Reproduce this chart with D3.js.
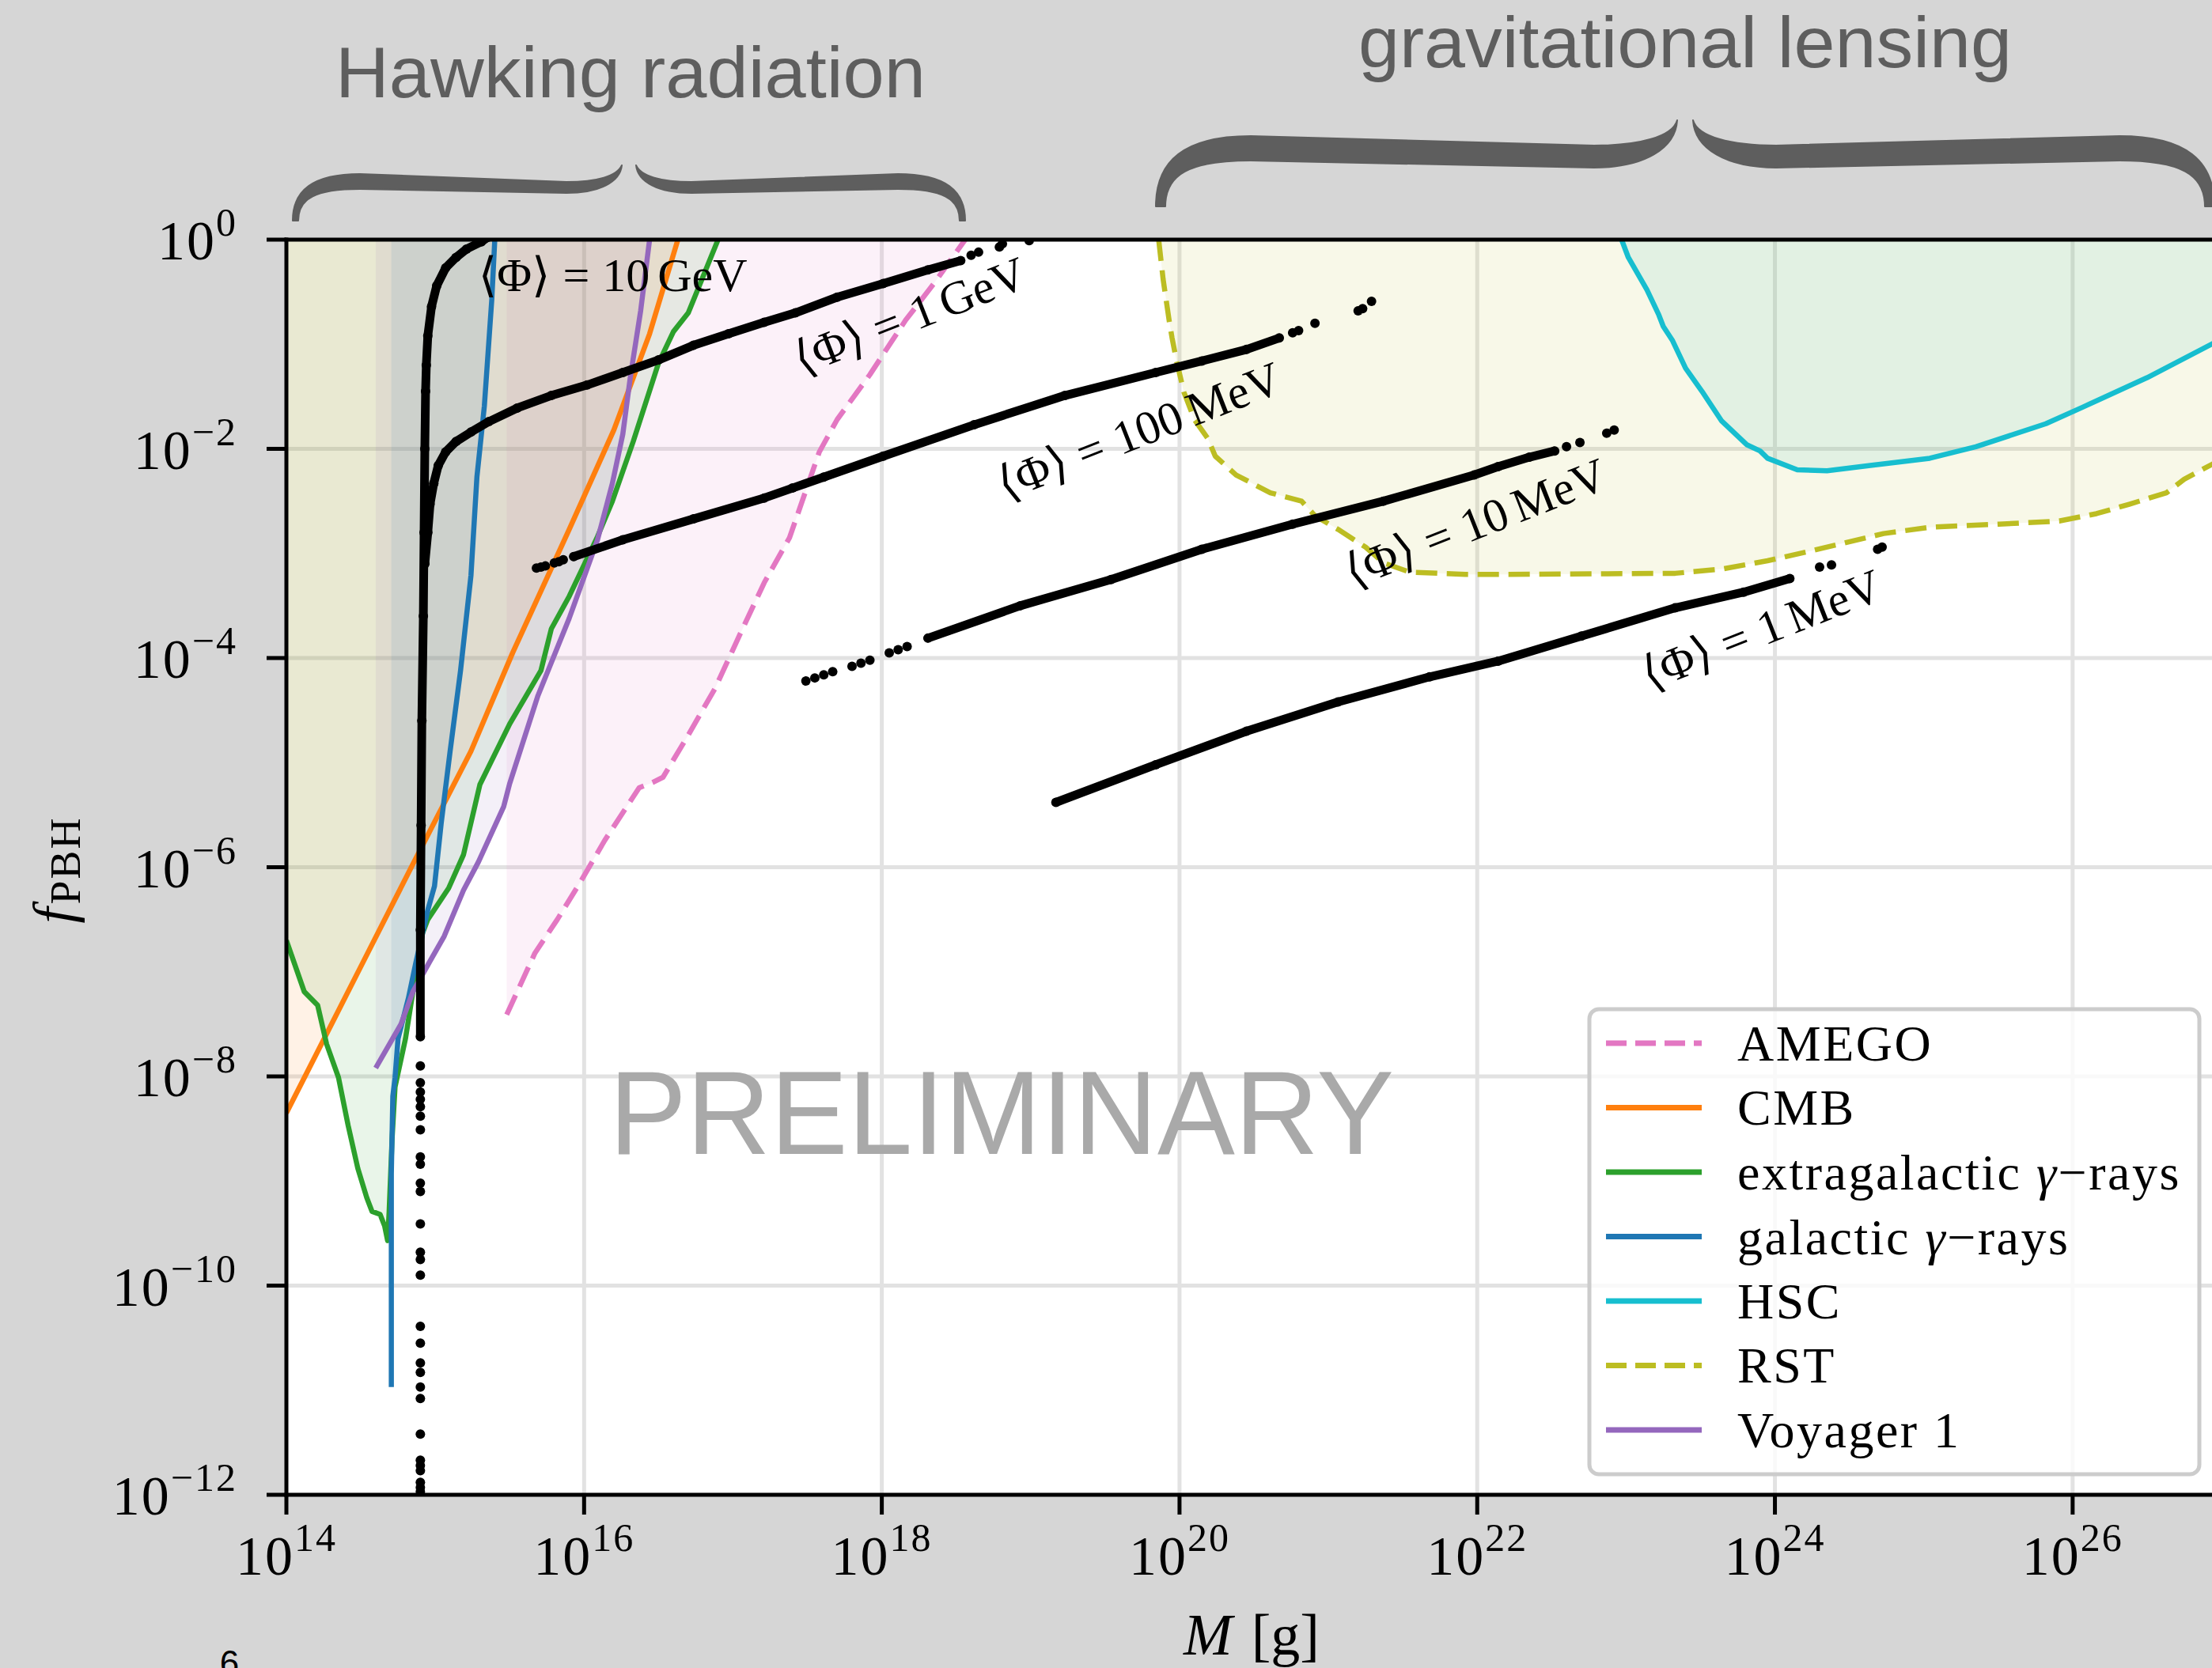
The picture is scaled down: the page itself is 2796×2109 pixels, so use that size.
<!DOCTYPE html>
<html>
<head>
<meta charset="utf-8">
<script src="https://cdn.jsdelivr.net/npm/d3@7"></script>
<style>
  html, body { margin: 0; padding: 0; background: #d6d6d6; }
  svg { display: block; }
</style>
</head>
<body>
<div id="chart"></div>
<script>
// every point is [log10(M / g), log10(f_PBH)]
const massTicks = [14, 16, 18, 20, 22, 24, 26];
const fracTicks = [0, -2, -4, -6, -8, -10, -12];

const amego = [[15.48,-7.41],[15.67,-6.82],[15.82,-6.50],[15.98,-6.13],[16.14,-5.74],[16.37,-5.24],[16.46,-5.19],[16.53,-5.14],[16.69,-4.76],[16.88,-4.29],[17.045,-3.78],[17.21,-3.28],[17.38,-2.85],[17.48,-2.44],[17.58,-2.03],[17.70,-1.72],[17.92,-1.29],[18.16,-0.77],[18.35,-0.42],[18.56,0]];
const cmb = [[14.0,-8.35],[14.5,-6.95],[14.85,-5.97],[15.24,-4.89],[15.52,-3.95],[15.90,-2.77],[16.20,-1.82],[16.44,-0.90],[16.63,0]];
const extragalactic = [[14.0,-6.70],[14.12,-7.19],[14.21,-7.32],[14.27,-7.69],[14.35,-8.01],[14.415,-8.47],[14.48,-8.88],[14.54,-9.16],[14.575,-9.29],[14.63,-9.32],[14.66,-9.43],[14.68,-9.57],[14.69,-9.30],[14.71,-8.60],[14.73,-8.10],[14.80,-7.64],[14.85,-7.19],[14.915,-6.63],[14.95,-6.50],[15.09,-6.20],[15.19,-5.88],[15.30,-5.21],[15.50,-4.63],[15.71,-4.12],[15.78,-3.72],[15.90,-3.41],[16.09,-2.84],[16.19,-2.50],[16.33,-1.93],[16.50,-1.18],[16.60,-0.88],[16.70,-0.70],[16.90,0]];
const galactic = [[14.705,-10.97],[14.705,-8.93],[14.715,-8.19],[14.73,-8.01],[14.75,-7.64],[14.82,-7.25],[14.87,-6.91],[14.95,-6.41],[14.995,-6.18],[15.04,-5.58],[15.10,-4.89],[15.17,-4.12],[15.24,-3.21],[15.28,-2.27],[15.33,-1.59],[15.38,-0.57],[15.40,0]];
const hsc = [[22.97,0],[23.015,-0.17],[23.14,-0.48],[23.22,-0.72],[23.25,-0.83],[23.31,-0.96],[23.40,-1.23],[23.51,-1.45],[23.64,-1.73],[23.81,-1.96],[23.90,-2.02],[23.95,-2.09],[24.15,-2.20],[24.35,-2.21],[24.63,-2.16],[25.04,-2.09],[25.35,-1.98],[25.82,-1.76],[26.07,-1.60],[26.50,-1.32],[26.96,-0.98],[27.0,-0.95]];
const rst = [[19.86,0],[19.89,-0.38],[19.93,-0.77],[19.95,-0.94],[19.98,-1.16],[20.03,-1.46],[20.10,-1.72],[20.19,-1.90],[20.24,-2.07],[20.38,-2.25],[20.61,-2.42],[20.82,-2.50],[20.91,-2.64],[21.065,-2.77],[21.25,-2.94],[21.37,-3.09],[21.55,-3.18],[21.92,-3.20],[22.2,-3.20],[23.33,-3.19],[23.64,-3.15],[23.95,-3.07],[24.26,-2.97],[24.73,-2.81],[25.04,-2.75],[25.505,-2.72],[25.91,-2.69],[26.16,-2.62],[26.38,-2.53],[26.63,-2.42],[26.75,-2.29],[26.96,-2.13],[27.0,-2.10]];
const voyager = [[14.60,-7.92],[14.77,-7.50],[14.85,-7.19],[14.96,-6.91],[15.06,-6.66],[15.19,-6.22],[15.29,-5.95],[15.46,-5.42],[15.50,-5.20],[15.69,-4.36],[15.90,-3.62],[16.09,-2.87],[16.19,-2.33],[16.26,-1.86],[16.31,-1.32],[16.38,-0.68],[16.44,0]];

const names = ['AMEGO', 'CMB', 'extragalactic', 'galactic', 'HSC', 'RST', 'Voyager 1'];
const colors = ['#e377c2', '#ff7f0e', '#2ca02c', '#1f77b4', '#17becf', '#bcbd22', '#9467bd'];
const dashed = [true, false, false, false, false, true, false];

// <Phi> contours: dense runs of points and loose single points
const flux10GeV = [[14.90,-7.62],[14.90,-6.6],[14.905,-5.6],[14.91,-4.6],[14.92,-3.6],[14.925,-2.8],[14.93,-2.0],[14.935,-1.45],[14.94,-1.2],[14.95,-0.92],[14.975,-0.64],[15.01,-0.44],[15.07,-0.27],[15.14,-0.17],[15.21,-0.09],[15.31,-0.02],[15.35,0.02]];
const flux10GeVLoose = [[14.9,-7.90],[14.9,-8.06],[14.9,-8.15],[14.9,-8.22],[14.9,-8.29],[14.9,-8.38],[14.9,-8.51],[14.9,-8.77],[14.9,-8.84],[14.9,-9.02],[14.9,-9.10],[14.9,-9.41],[14.9,-9.68],[14.9,-9.75],[14.9,-9.90],[14.9,-10.39],[14.9,-10.55],[14.9,-10.74],[14.9,-10.83],[14.9,-10.97],[14.9,-11.08],[14.9,-11.42],[14.9,-11.67],[14.9,-11.72],[14.9,-11.77],[14.9,-11.88],[14.9,-11.93],[14.9,-11.97]];
const flux1GeV = [[14.93,-3.1],[14.95,-2.8],[14.965,-2.53],[14.99,-2.33],[15.02,-2.16],[15.07,-2.03],[15.14,-1.93],[15.24,-1.84],[15.36,-1.74],[15.55,-1.61],[15.78,-1.49],[16.02,-1.39],[16.26,-1.27],[16.50,-1.15],[16.735,-1.01],[16.97,-0.90],[17.21,-0.79],[17.42,-0.70],[17.70,-0.55],[18.01,-0.42],[18.31,-0.29],[18.53,-0.20]];
const flux1GeVLoose = [[18.60,-0.15],[18.65,-0.12],[18.79,-0.07],[18.81,-0.04],[18.99,-0.01]];
const flux100MeV = [[15.93,-3.03],[16.26,-2.87],[16.735,-2.67],[17.21,-2.47],[17.40,-2.375],[17.61,-2.27],[18.01,-2.07],[18.62,-1.77],[19.23,-1.49],[19.84,-1.27],[20.15,-1.16],[20.45,-1.05],[20.67,-0.94]];
const flux100MeVLoose = [[15.68,-3.14],[15.71,-3.13],[15.74,-3.12],[15.80,-3.09],[15.83,-3.08],[15.86,-3.06],[20.76,-0.89],[20.80,-0.87],[20.91,-0.80],[21.20,-0.68],[21.23,-0.66],[21.29,-0.59]];
const flux10MeV = [[18.31,-3.81],[18.93,-3.50],[19.54,-3.25],[20.15,-2.96],[20.76,-2.72],[21.37,-2.50],[21.98,-2.25],[22.14,-2.17],[22.35,-2.08],[22.52,-2.02]];
const flux10MeVLoose = [[17.49,-4.22],[17.55,-4.19],[17.61,-4.16],[17.67,-4.13],[17.80,-4.08],[17.86,-4.05],[17.92,-4.02],[18.05,-3.95],[18.11,-3.92],[18.17,-3.89],[22.60,-1.98],[22.69,-1.94],[22.87,-1.85],[22.92,-1.82]];
const flux1MeV = [[19.17,-5.38],[19.84,-5.02],[20.45,-4.70],[21.065,-4.42],[21.68,-4.18],[22.14,-4.03],[22.70,-3.79],[23.33,-3.52],[23.79,-3.37],[24.10,-3.24]];
const flux1MeVLoose = [[24.30,-3.13],[24.38,-3.11],[24.69,-2.96],[24.72,-2.94]];

const fluxLabels = ['10', '1', '100', '10', '1'];
const fluxUnits = ['GeV', 'GeV', 'MeV', 'MeV', 'MeV'];

const W = 2796, H = 2109;
const plot = { left: 362, right: 2808, top: 303, bottom: 1890 };
const serif = "'Liberation Serif', 'DejaVu Serif', serif";
const sans = "'Liberation Sans', Arial, sans-serif";

const x = d3.scaleLog().domain([1e14, 1e27]).range([plot.left, plot.right]);
const y = d3.scaleLog().domain([1e-12, 1]).range([plot.bottom, plot.top]);
const px = d => x(Math.pow(10, d[0]));
const py = d => y(Math.pow(10, d[1]));

const svg = d3.select('#chart').append('svg')
  .attr('width', W).attr('height', H)
  .style('background-color', '#d6d6d6');

svg.append('defs').append('clipPath').attr('id', 'clip')
  .append('rect')
  .attr('x', plot.left).attr('y', plot.top)
  .attr('width', plot.right - plot.left).attr('height', plot.bottom - plot.top);

svg.append('rect')
  .attr('x', plot.left).attr('y', plot.top)
  .attr('width', plot.right - plot.left).attr('height', plot.bottom - plot.top)
  .attr('fill', 'white');

// grid
const grid = svg.append('g').attr('stroke', '#e2e2e2').attr('stroke-width', 5);
grid.selectAll('.gx').data(massTicks.slice(1)).enter().append('line')
  .attr('x1', d => x(Math.pow(10, d))).attr('x2', d => x(Math.pow(10, d)))
  .attr('y1', plot.top).attr('y2', plot.bottom);
grid.selectAll('.gy').data(fracTicks.slice(1, -1)).enter().append('line')
  .attr('x1', plot.left).attr('x2', plot.right)
  .attr('y1', d => y(Math.pow(10, d))).attr('y2', d => y(Math.pow(10, d)));

const series = [amego, cmb, extragalactic, galactic, hsc, rst, voyager].map((data, i) => ({
  name: names[i], color: colors[i], dashed: dashed[i], data
}));

const inner = svg.append('g').attr('clip-path', 'url(#clip)');

// shaded excluded regions (above each curve)
const area = d3.area().x(px).y0(y(1)).y1(py);
inner.selectAll('.fill').data(series).enter().append('path')
  .attr('d', d => area(d.data))
  .attr('fill', d => d.color)
  .attr('fill-opacity', 0.1);

const line = d3.line().x(px).y(py);
inner.selectAll('.curve').data(series).enter().append('path')
  .attr('d', d => line(d.data))
  .attr('fill', 'none')
  .attr('stroke', d => d.color)
  .attr('stroke-width', 6.5)
  .attr('stroke-linejoin', 'round')
  .attr('stroke-dasharray', d => d.dashed ? '27,12' : null);

// flux contours
const dense = [flux10GeV, flux1GeV, flux100MeV, flux10MeV, flux1MeV];
const loose = [flux10GeVLoose, flux1GeVLoose, flux100MeVLoose, flux10MeVLoose, flux1MeVLoose];
inner.selectAll('.chain').data(dense).enter().append('path')
  .attr('d', line)
  .attr('fill', 'none')
  .attr('stroke', 'black')
  .attr('stroke-width', 11)
  .attr('stroke-linecap', 'round')
  .attr('stroke-linejoin', 'round');
inner.selectAll('.dot').data(dense.flat().concat(loose.flat())).enter().append('circle')
  .attr('cx', px).attr('cy', py).attr('r', 6)
  .attr('fill', 'black');

// contour labels
const labelPos = [
  { at: [15.29, -0.49], rot: 0, anchor: 'start' },
  { at: [18.19, -0.73], rot: -21.5, anchor: 'middle' },
  { at: [19.73, -1.83], rot: -21.5, anchor: 'middle' },
  { at: [21.99, -2.71], rot: -21.5, anchor: 'middle' },
  { at: [23.91, -3.73], rot: -21.5, anchor: 'middle' }
];
labelPos.forEach((p, i) => {
  const t = svg.append('text')
    .attr('transform', `translate(${px(p.at)},${py(p.at)}) rotate(${p.rot})`)
    .attr('text-anchor', p.anchor)
    .attr('dominant-baseline', p.rot ? 'central' : 'alphabetic')
    .attr('font-family', serif)
    .attr('font-size', 60)
    .attr('fill', 'black');
  t.append('tspan').text('\u27E8\u03A6\u27E9');
  t.append('tspan').attr('dx', 16).text('=');
  t.append('tspan').attr('dx', 16).text(fluxLabels[i]);
  t.append('tspan').attr('dx', 10).text(fluxUnits[i]);
});

// PRELIMINARY stamp
svg.append('text')
  .attr('x', 770).attr('y', 1459)
  .attr('font-family', sans).attr('font-size', 150)
  .attr('fill', '#a9a9a9')
  .attr('textLength', 992).attr('lengthAdjust', 'spacingAndGlyphs')
  .text('PRELIMINARY');

// legend
const lg = svg.append('g');
lg.append('rect')
  .attr('x', 2009).attr('y', 1276).attr('width', 771).attr('height', 588)
  .attr('rx', 12)
  .attr('fill', 'white').attr('fill-opacity', 0.8)
  .attr('stroke', '#cccccc').attr('stroke-width', 5);
const rows = lg.selectAll('.row').data(series).enter().append('g')
  .attr('transform', (d, i) => `translate(0,${1319 + i * 81.5})`);
rows.append('line')
  .attr('x1', 2030).attr('x2', 2151)
  .attr('stroke', d => d.color).attr('stroke-width', 7)
  .attr('stroke-dasharray', d => d.dashed ? '26,11' : null);
rows.append('text')
  .attr('x', 2196).attr('dominant-baseline', 'central')
  .attr('font-family', serif).attr('font-size', 64).attr('fill', 'black')
  .attr('letter-spacing', 2.5)
  .each(function (d) {
    const t = d3.select(this);
    if (d.name === 'extragalactic' || d.name === 'galactic') {
      t.append('tspan').text(d.name + ' ');
      t.append('tspan').attr('font-style', 'italic').text('\u03B3');
      t.append('tspan').text('\u2212rays');
    } else {
      t.text(d.name);
    }
  });

// spines and ticks
const axes = svg.append('g').attr('stroke', 'black').attr('stroke-width', 5);
axes.append('line').attr('x1', plot.left).attr('x2', plot.left).attr('y1', plot.top - 2.5).attr('y2', plot.bottom + 2.5);
axes.append('line').attr('x1', plot.left - 2.5).attr('x2', W + 20).attr('y1', plot.top).attr('y2', plot.top);
axes.append('line').attr('x1', plot.left - 2.5).attr('x2', W + 20).attr('y1', plot.bottom).attr('y2', plot.bottom);
axes.selectAll('.ty').data(fracTicks).enter().append('line')
  .attr('x1', plot.left - 25).attr('x2', plot.left)
  .attr('y1', d => y(Math.pow(10, d))).attr('y2', d => y(Math.pow(10, d)));
axes.selectAll('.tx').data(massTicks).enter().append('line')
  .attr('x1', d => x(Math.pow(10, d))).attr('x2', d => x(Math.pow(10, d)))
  .attr('y1', plot.bottom).attr('y2', plot.bottom + 25);

function power(sel, e) {
  sel.append('tspan').text('10');
  sel.append('tspan').attr('font-size', 50).attr('dy', -30)
    .text(e < 0 ? '\u2212' + (-e) : String(e));
}
svg.selectAll('.ly').data(fracTicks).enter().append('text')
  .attr('x', 300).attr('y', d => y(Math.pow(10, d)) + 25)
  .attr('text-anchor', 'end')
  .attr('font-family', serif).attr('font-size', 70).attr('fill', 'black')
  .attr('letter-spacing', 2)
  .each(function (d) { power(d3.select(this), d); });
svg.selectAll('.lx').data(massTicks).enter().append('text')
  .attr('x', d => x(Math.pow(10, d))).attr('y', 1991)
  .attr('text-anchor', 'middle')
  .attr('font-family', serif).attr('font-size', 70).attr('fill', 'black')
  .attr('letter-spacing', 2)
  .each(function (d) { power(d3.select(this), d); });

// axis titles
const xt = svg.append('text')
  .attr('x', 1582).attr('y', 2092).attr('text-anchor', 'middle')
  .attr('font-family', serif).attr('font-size', 74).attr('fill', 'black');
xt.append('tspan').attr('font-style', 'italic').text('M');
xt.append('tspan').attr('dx', 24).text('[g]');

const yt = svg.append('text')
  .attr('transform', 'translate(92,1100) rotate(-90)')
  .attr('text-anchor', 'middle')
  .attr('font-family', serif).attr('font-size', 72).attr('fill', 'black');
yt.append('tspan').attr('font-style', 'italic').text('f');
yt.append('tspan').attr('font-size', 54).attr('dy', 9).attr('dx', 4).attr('letter-spacing', 2).text('PBH');

// braces over the two probe families
function brace(o) {
  [1, -1].forEach(s => {
    const tip = s > 0 ? o.x0 : 2 * o.xc - o.x0;
    const D = Math.abs(o.xc - o.x0) - o.gap;
    const X = dx => tip + s * dx;
    const p = d3.path();
    p.moveTo(X(0), o.yTip);
    p.bezierCurveTo(X(0), o.yArmL + 0.35 * (o.yTip - o.yArmL), X(o.curlL * 0.3), o.yArmL, X(o.curlL), o.yArmL);
    p.lineTo(X(D - o.curlC), o.yArmC);
    p.bezierCurveTo(X(D - o.curlC * 0.45), o.yArmC, X(D - 6), o.yArmC - 0.35 * (o.yArmC - o.yPeak), X(D), o.yPeak);
    p.bezierCurveTo(X(D - 2), o.yPeak + 0.6 * (o.yArmC + o.thC - o.yPeak), X(D - o.curlC * 0.4), o.yArmC + o.thC, X(D - o.curlC), o.yArmC + o.thC);
    p.lineTo(X(o.curlL), o.yArmL + o.thL);
    p.bezierCurveTo(X(o.tipW + o.curlL * 0.25), o.yArmL + o.thL, X(o.tipW), o.yArmL + o.thL + 0.3 * (o.yTip - o.yArmL - o.thL), X(o.tipW), o.yTip);
    p.closePath();
    svg.append('path').attr('d', p.toString())
      .attr('fill', '#5e5e5e').attr('stroke', '#5e5e5e')
      .attr('stroke-width', 2).attr('stroke-linejoin', 'round');
  });
}
brace({ x0: 370, xc: 795, gap: 9, yTip: 279, yArmL: 220, yArmC: 230, yPeak: 209, thL: 19, thC: 14, tipW: 7, curlL: 85, curlC: 70 });
brace({ x0: 1461, xc: 2130, gap: 10, yTip: 261, yArmL: 172, yArmC: 184, yPeak: 152, thL: 31, thC: 28, tipW: 12, curlL: 120, curlC: 105 });

svg.append('text')
  .attr('x', 797).attr('y', 123).attr('text-anchor', 'middle')
  .attr('font-family', sans).attr('font-size', 90).attr('fill', '#5e5e5e')
  .attr('textLength', 746).attr('lengthAdjust', 'spacingAndGlyphs')
  .text('Hawking radiation');
svg.append('text')
  .attr('x', 2130).attr('y', 85).attr('text-anchor', 'middle')
  .attr('font-family', sans).attr('font-size', 90).attr('fill', '#5e5e5e')
  .attr('textLength', 826).attr('lengthAdjust', 'spacingAndGlyphs')
  .text('gravitational lensing');

// slide page number, cut by the bottom edge as in the source slide
svg.append('text')
  .attr('x', 290).attr('y', 2118).attr('text-anchor', 'middle')
  .attr('font-family', sans).attr('font-size', 44).attr('fill', 'black')
  .text('6');
</script>
</body>
</html>
